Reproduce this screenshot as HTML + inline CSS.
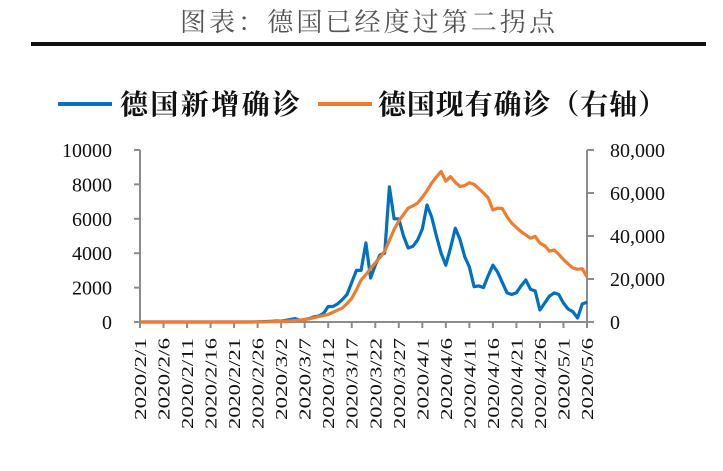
<!DOCTYPE html>
<html><head><meta charset="utf-8">
<style>
html,body{margin:0;padding:0;background:#fff;}
body{width:723px;height:471px;overflow:hidden;}
svg{display:block;}
</style></head>
<body>
<svg id="chart" width="723" height="471" viewBox="0 0 723 471" xmlns="http://www.w3.org/2000/svg">
  <text x="180" y="31" textLength="375" lengthAdjust="spacing" font-family="'Liberation Serif','Noto Serif CJK SC',serif" font-size="26" fill="#555">图表：德国已经度过第二拐点</text>
  <rect x="31" y="42" width="675" height="4" fill="#111"/>
  <g>
    <g>
      <line x1="58" y1="104" x2="112" y2="104" stroke="#0070C0" stroke-width="4"/>
      <text x="120" y="114" textLength="180" lengthAdjust="spacing" font-family="'Liberation Serif','Noto Serif CJK SC',serif" font-weight="bold" font-size="28" fill="#111">德国新增确诊</text>
    </g>
    <g>
      <line x1="318" y1="104" x2="372" y2="104" stroke="#ED7D31" stroke-width="4"/>
      <text x="378" y="114" textLength="288" lengthAdjust="spacing" font-family="'Liberation Serif','Noto Serif CJK SC',serif" font-weight="bold" font-size="28" fill="#111">德国现有确诊（右轴）</text>
    </g>
  </g>
  <g id="axes"></g>
  <g id="series"></g>
</svg>
<script>
const startYear = 2020;
const dayCount = 96;
const newCases = [0,0,0,0,0,0,0,0,0,0,0,0,0,0,0,0,0,0,0,0,0,0,0,0,0,10,20,30,40,60,
  50,100,150,200,100,150,200,300,350,500,900,900,1050,1300,1600,2300,3000,3000,4600,2550,
  3300,3900,4000,7860,6000,6000,5000,4300,4400,4770,5400,6800,6100,5000,4000,3300,4300,5450,4800,3800,
  3200,2050,2100,2000,2700,3300,2900,2300,1700,1600,1700,2100,2440,1900,1800,700,1100,1500,1690,1600,
  1100,750,600,230,1050,1150];
const activeCases = [0,0,0,0,0,0,0,0,0,0,0,0,0,0,0,0,0,0,0,0,0,0,0,0,0,50,80,100,150,200,
  300,400,500,700,900,1100,1500,2000,2500,3000,3500,4500,5500,6500,8500,11000,15000,19500,22000,25000,
  27500,30000,33000,38000,43000,47000,50000,53000,54000,55300,58000,61000,64600,67500,70000,65500,67600,65000,63000,63500,
  64800,64000,62000,60000,57700,52100,53000,52800,49000,46000,44000,42000,40500,39000,39800,36700,35500,33000,33500,31500,
  29000,27000,25100,24500,24800,21000];
const leftTicks = [0,2000,4000,6000,8000,10000];
const leftTickLabels = ["0","2000","4000","6000","8000","10000"];
const rightTicks = [0,20000,40000,60000,80000];
const rightTickLabels = ["0","20,000","40,000","60,000","80,000"];

const NS = "http://www.w3.org/2000/svg";
const X0 = 140, X1 = 587, Y0 = 322, Y1 = 150;
const xScale = i => X0 + (X1 - X0) * i / (dayCount - 1);
const yLeft = v => Y0 - (Y0 - Y1) * v / 10000;
const yRight = v => Y0 - (Y0 - Y1) * v / 80000;
function mk(tag, attrs, parent){const e=document.createElementNS(NS,tag);for(const k in attrs)e.setAttribute(k,attrs[k]);parent.appendChild(e);return e;}
function dateLabel(i){const d=new Date(Date.UTC(startYear,1,1+i));return startYear+"/"+(d.getUTCMonth()+1)+"/"+d.getUTCDate();}

const axes = document.getElementById('axes');
const ser = document.getElementById('series');
const axisColor = "#8c8c8c";
const serif = "'Liberation Serif',serif";

const la = mk('line',{x1:X0,y1:Y1,x2:X0,y2:Y0,stroke:axisColor,'stroke-width':2},axes);


leftTicks.forEach((v,i)=>{
  const y=yLeft(v);
  const t=mk('line',{x1:X0-6,y1:y,x2:X0,y2:y,stroke:axisColor,'stroke-width':2},axes);
  
  
  const tx=mk('text',{x:112,y:y+7,'text-anchor':'end','font-family':serif,'font-size':20,fill:'#111'},axes);
  
  
  tx.textContent=leftTickLabels[i];
});
const ra = mk('line',{x1:X1,y1:Y1,x2:X1,y2:Y0,stroke:axisColor,'stroke-width':2},axes);


rightTicks.forEach((v,i)=>{
  const y=yRight(v);
  const t=mk('line',{x1:X1,y1:y,x2:X1+7,y2:y,stroke:axisColor,'stroke-width':2},axes);
  
  
  const tx=mk('text',{x:610,y:y+7,'font-family':serif,'font-size':20,fill:'#111'},axes);
  
  
  tx.textContent=rightTickLabels[i];
});
const xa = mk('line',{x1:X0,y1:Y0,x2:X1,y2:Y0,stroke:axisColor,'stroke-width':2},axes);


for(let i=0;i<dayCount;i+=5){
  const x=xScale(i);
  const t=mk('line',{x1:x,y1:Y0,x2:x,y2:Y0+6,stroke:axisColor,'stroke-width':2},axes);
  
  
  const lbl=dateLabel(i);
  const len = lbl.length===10?100:(lbl.length===9?91:82);
  const tx=mk('text',{x:0,y:0,transform:`translate(${x+6},338) rotate(-90)`,'text-anchor':'end','font-family':serif,'font-size':17,fill:'#111',textLength:len,lengthAdjust:'spacingAndGlyphs'},axes);
  
  
  tx.textContent=lbl;
}
function path(vals, ys){return vals.map((v,i)=>(i?'L':'M')+xScale(i).toFixed(1)+' '+ys(v).toFixed(1)).join(' ');}
const pb=mk('path',{d:path(newCases,yLeft),fill:'none',stroke:'#0070C0','stroke-width':3.2,'stroke-linejoin':'round'},ser);


const po=mk('path',{d:path(activeCases,yRight),fill:'none',stroke:'#ED7D31','stroke-width':3.2,'stroke-linejoin':'round'},ser);


</script>
</body></html>
